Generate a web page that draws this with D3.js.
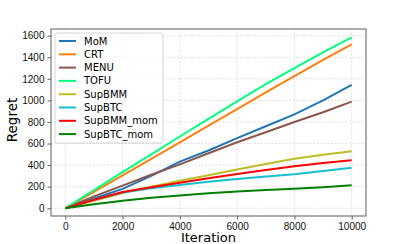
<!DOCTYPE html>
<html>
<head>
<meta charset="utf-8">
<script src="https://cdn.jsdelivr.net/npm/d3@7"></script>
<style>
  body { margin: 0; background: #fff; }
  svg { font-family: "DejaVu Sans", sans-serif; }
</style>
</head>
<body>
<div id="chart"></div>
<script>
// data
const iterations = [0, 1000, 2000, 3000, 4000, 5000, 6000, 7000, 8000, 9000, 10000]
const names = ['MoM', 'CRT', 'MENU', 'TOFU', 'SupBMM', 'SupBTC', 'SupBMM_mom', 'SupBTC_mom']
const colors = ['#1f77b4', '#ff7f0e', '#8c564b', '#00ff7f', '#bcbd22', '#17becf', '#ff0000', '#008000']
const mom = [0, 90, 180, 300, 432, 535, 650, 760, 870, 1000, 1143]
const crt = [0, 152, 305, 458, 610, 765, 920, 1075, 1225, 1375, 1520]
const menu = [0, 110, 210, 310, 407, 510, 612, 705, 800, 890, 988]
const tofu = [0, 168, 335, 500, 665, 828, 990, 1150, 1300, 1445, 1585]
const supBMM = [0, 70, 140, 200, 255, 305, 360, 410, 458, 495, 528]
const supBTC = [0, 78, 145, 185, 215, 245, 272, 295, 315, 345, 376]
const supBMMmom = [0, 78, 150, 195, 237, 278, 318, 355, 390, 420, 445]
const supBTCmom = [0, 38, 70, 98, 118, 138, 155, 168, 180, 195, 213]
const xTicks = [0, 2000, 4000, 6000, 8000, 10000]
const yTicks = [0, 200, 400, 600, 800, 1000, 1200, 1400, 1600]

const seriesValues = [mom, crt, menu, tofu, supBMM, supBTC, supBMMmom, supBTCmom]
const series = names.map((name, i) => ({
    name: name,
    color: colors[i],
    values: seriesValues[i].map((v, j) => ({x: iterations[j], y: v}))
}))

const dimensions = {
    width: 407,
    height: 244,
    margin: {top: 29, right: 41, bottom: 28, left: 51}
}
dimensions.innerWidth = dimensions.width - dimensions.margin.left - dimensions.margin.right
dimensions.innerHeight = dimensions.height - dimensions.margin.top - dimensions.margin.bottom

const svg = d3.select('#chart').append('svg')
    .attr('width', dimensions.width)
    .attr('height', dimensions.height)

const inner = svg.append('g')
    .attr('transform', `translate(${dimensions.margin.left},${dimensions.margin.top})`)

const xScale = d3.scaleLinear()
    .domain([-500, 10500])
    .range([0, dimensions.innerWidth])

const yScale = d3.scaleLinear()
    .domain([-72, 1662])
    .range([dimensions.innerHeight, 0])

// grid
inner.append('g').selectAll('line').data(xTicks).join('line')
    .attr('x1', d => xScale(d)).attr('x2', d => xScale(d))
    .attr('y1', 0).attr('y2', dimensions.innerHeight)
    .attr('stroke', '#d8d8d8').attr('stroke-width', 0.8).attr('stroke-dasharray', '2,1.5')
inner.append('g').selectAll('line').data(yTicks).join('line')
    .attr('x1', 0).attr('x2', dimensions.innerWidth)
    .attr('y1', d => yScale(d)).attr('y2', d => yScale(d))
    .attr('stroke', '#d8d8d8').attr('stroke-width', 0.8).attr('stroke-dasharray', '2,1.5')

// lines
const line = d3.line()
    .x(d => xScale(d.x))
    .y(d => yScale(d.y))

inner.append('g').selectAll('path').data(series).join('path')
    .attr('d', d => line(d.values))
    .attr('fill', 'none')
    .attr('stroke', d => d.color)
    .attr('stroke-width', 2)

// axes
const xAxis = d3.axisBottom(xScale).tickValues(xTicks).tickSize(3.5).tickPadding(3).tickFormat(d3.format('d'))
const yAxis = d3.axisLeft(yScale).tickValues(yTicks).tickSize(3.5).tickPadding(3).tickFormat(d3.format('d'))

const xAxisGroup = inner.append('g')
    .attr('transform', `translate(0,${dimensions.innerHeight})`)
    .call(xAxis)
const yAxisGroup = inner.append('g').call(yAxis)

for (const g of [xAxisGroup, yAxisGroup]) {
    g.select('.domain').remove()
    g.selectAll('.tick line').attr('stroke', '#333').attr('stroke-width', 0.8)
    g.selectAll('.tick text').attr('fill', '#111').style('font-size', '10px')
}

// frame
inner.append('rect')
    .attr('width', dimensions.innerWidth)
    .attr('height', dimensions.innerHeight)
    .attr('fill', 'none')
    .attr('stroke', '#777')
    .attr('stroke-width', 1.2)

// axis labels
svg.append('text')
    .attr('x', dimensions.margin.left + dimensions.innerWidth / 2)
    .attr('y', 242)
    .attr('text-anchor', 'middle')
    .style('font-size', '13px')
    .text('Iteration')

svg.append('text')
    .attr('transform', 'translate(17,120) rotate(-90)')
    .attr('text-anchor', 'middle')
    .style('font-size', '13.5px')
    .text('Regret')

// legend
const legend = inner.append('g').attr('transform', 'translate(4,4)')
legend.append('rect')
    .attr('width', 108)
    .attr('height', 110)
    .attr('rx', 2)
    .attr('fill', 'rgba(255,255,255,0.8)')
    .attr('stroke', '#ccc')
    .attr('stroke-width', 0.8)

const items = legend.selectAll('g.item').data(series).join('g')
    .attr('class', 'item')
    .attr('transform', (d, i) => `translate(0,${8 + i * 13.3})`)
items.append('line')
    .attr('x1', 4).attr('x2', 21)
    .attr('stroke', d => d.color).attr('stroke-width', 2)
items.append('text')
    .attr('x', 29)
    .attr('dy', '0.35em')
    .style('font-size', '10px')
    .text(d => d.name)
</script>
</body>
</html>
